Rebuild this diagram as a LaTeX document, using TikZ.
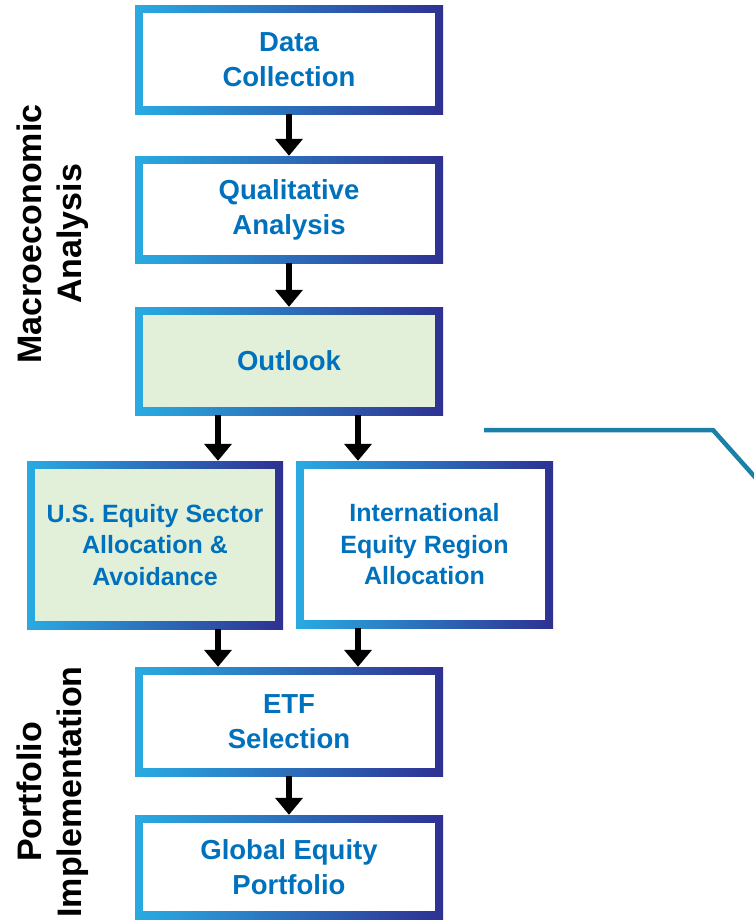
\documentclass[tikz,border=0pt]{standalone}
\usepackage{fontspec}
\setmainfont{Liberation Sans}
\usetikzlibrary{arrows.meta}
\definecolor{cyanB}{RGB}{41,171,226}
\definecolor{navyB}{RGB}{46,49,146}
\definecolor{txtblue}{RGB}{0,113,188}
\definecolor{greenF}{RGB}{226,240,217}
\definecolor{tealL}{RGB}{27,128,166}
\newcommand\topfnt{\fontsize{27.5}{35}\selectfont\bfseries}
\newcommand\midfnt{\fontsize{25}{31.5}\selectfont\bfseries}
\newcommand\sidefnt{\fontsize{34}{40}\selectfont\bfseries}
\begin{document}
\begin{tikzpicture}[x=1pt,y=-1pt,
  gbox/.style={rectangle, inner sep=0pt, left color=cyanB, right color=navyB,
    text=txtblue, align=center,
    path picture={\fill[#1] ([shift={(8pt,8pt)}]path picture bounding box.south west)
      rectangle ([shift={(-8pt,-8pt)}]path picture bounding box.north east);}},
  gbox/.default=white,
  wide/.style={minimum width=308pt},
  arr/.style={line width=5.5pt, -{Triangle[width=27pt,length=17pt]}},
  sidelab/.style={rotate=90, align=center, inner sep=0pt, font=\sidefnt, text=black},
  tealline/.style={draw=tealL, line width=4.5pt}
]
\useasboundingbox (0,0) rectangle (754,921);
\fill[white] (0,0) rectangle (754,921);

% teal line
\coordinate (t1) at (484,430);
\coordinate (t2) at (713,430);
\coordinate (t3) at (762,485);
\draw[tealline] (t1) -- (t2) -- (t3);

% boxes
\node[gbox, wide, minimum height=109pt, font=\topfnt] (d1) at (289,59.5) {Data\\Collection};
\node[gbox, wide, minimum height=107pt, font=\topfnt] (qa) at (289,209.5) {Qualitative\\Analysis};
\node[gbox=greenF, wide, minimum height=108pt, font=\topfnt] (out) at (289,361) {Outlook};
\node[gbox=greenF, minimum width=256pt, minimum height=168pt, font=\midfnt] (us) at (155,545) {U.S. Equity Sector\\Allocation \&\\Avoidance};
\node[gbox, minimum width=257pt, minimum height=167pt, font=\midfnt] (intl) at (424.5,544.5) {International\\Equity Region\\Allocation};
\node[gbox, wide, minimum height=109pt, font=\topfnt] (etf) at (289,721.5) {ETF\\Selection};
\node[gbox, wide, minimum height=104pt, font=\topfnt] (gep) at (289,867) {Global Equity\\Portfolio};

% arrows
\draw[arr] (d1.south) -- (qa.north);
\draw[arr] (qa.south) -- (out.north);
\draw[arr] ([xshift=-71pt]out.south) -- ([xshift=-71pt]out.south |- us.north);
\draw[arr] ([xshift=69pt]out.south) -- ([xshift=69pt]out.south |- intl.north);
\draw[arr] ([xshift=63pt]us.south) -- ([xshift=63pt]us.south |- etf.north);
\draw[arr] ([xshift=-66.5pt]intl.south) -- ([xshift=-66.5pt]intl.south |- etf.north);
\draw[arr] (etf.south) -- (gep.north);

% side labels
\node[sidelab] (mac) at (52.5,234) {Macroeconomic\\Analysis};
\node[sidelab] (pim) at (52.5,792) {Portfolio\\Implementation};
\end{tikzpicture}
\end{document}
